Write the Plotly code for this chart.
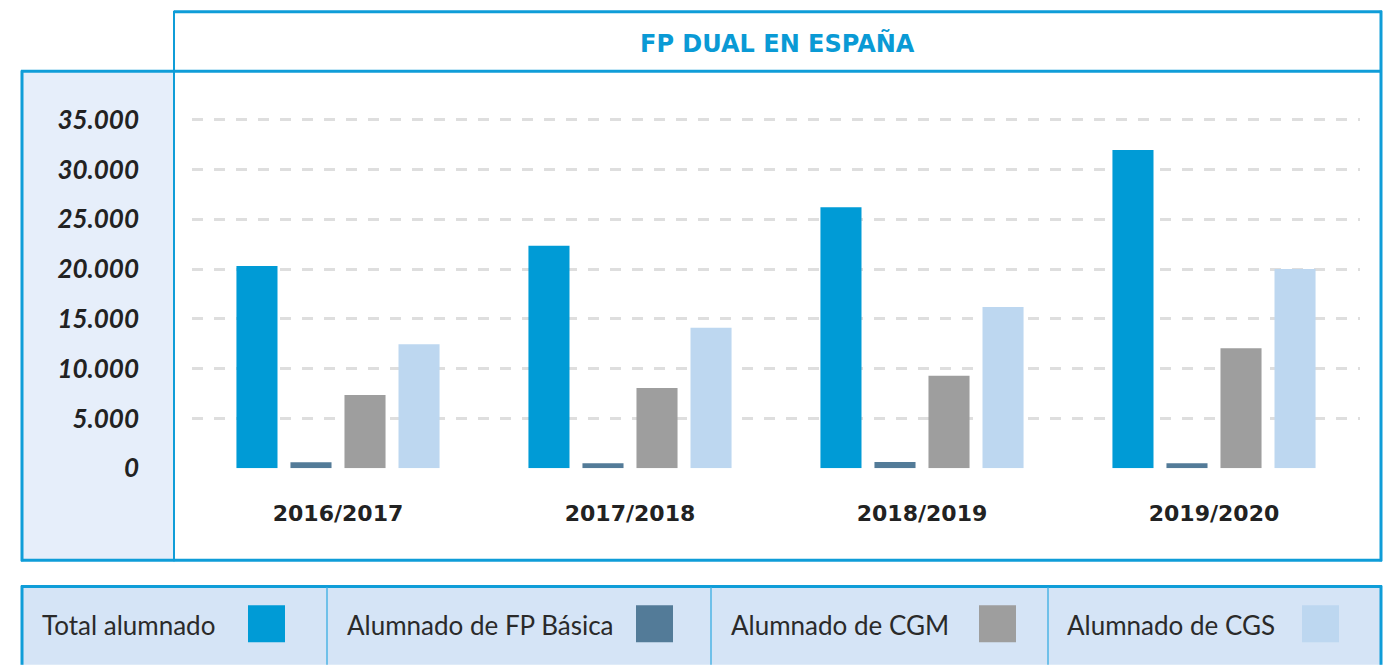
import plotly.graph_objects as go

# --- data -------------------------------------------------------------
cursos = ["2016/2017", "2017/2018", "2018/2019", "2019/2020"]
total_alumnado = [20300, 22350, 26200, 31950]
fp_basica = [600, 500, 620, 500]
cgm = [7350, 8050, 9300, 12050]
cgs = [12450, 14100, 16200, 20000]

series_names = ["Total alumnado", "Alumnado de FP Básica", "Alumnado de CGM", "Alumnado de CGS"]
series_values = [total_alumnado, fp_basica, cgm, cgs]
series_colors = ["#009bd6", "#537b98", "#9e9e9e", "#bdd7f0"]

y_ticks = [0, 5000, 10000, 15000, 20000, 25000, 30000, 35000]
titulo = "FP DUAL EN ESPAÑA"

# --- canvas geometry (pixels) -----------------------------------------
W, H = 1397, 671
BLUE = "#0f9dd8"


def px(x):
    return x / W


def py(y):
    return 1 - y / H


fig = go.Figure()
for name, vals, col in zip(series_names, series_values, series_colors):
    fig.add_trace(go.Bar(
        x=cursos, y=vals, name=name, marker=dict(color=col, line=dict(width=0)),
        showlegend=False,
    ))

shapes = []
# left panel (y axis labels background)
shapes.append(dict(type="rect", xref="paper", yref="paper",
                   x0=px(22), x1=px(174), y0=py(573), y1=py(73),
                   fillcolor="#e6eefa", line=dict(width=0), layer="below"))


def hline(y, x0, x1, w=3, color=BLUE):
    shapes.append(dict(type="line", xref="paper", yref="paper",
                       x0=px(x0), x1=px(x1), y0=py(y), y1=py(y),
                       line=dict(color=color, width=w)))


def vline(x, y0, y1, w=3, color=BLUE):
    shapes.append(dict(type="line", xref="paper", yref="paper",
                       x0=px(x), x1=px(x), y0=py(y0), y1=py(y1),
                       line=dict(color=color, width=w)))


# chart frame
hline(12, 174, 1382)
hline(73, 21, 1382)
hline(573, 21, 1382)
vline(174, 11, 574, w=2)
vline(1381, 11, 574)
vline(22, 72, 574)

# legend strip
shapes.append(dict(type="rect", xref="paper", yref="paper",
                   x0=px(22), x1=px(1381), y0=py(680), y1=py(600),
                   fillcolor="#d5e4f6", line=dict(width=0), layer="below"))
hline(600, 21, 1382)
vline(22, 599, 680)
vline(1381, 599, 680)
for xd in [327, 711, 1048]:
    vline(xd, 601, 680, w=1.5, color="#4db5e4")

annotations = [dict(text=f"<b>{titulo}</b>", xref="paper", yref="paper",
                    x=px(777), y=py(44), showarrow=False,
                    font=dict(family="DejaVu Sans", size=24, color="#0a9ad5"),
                    xanchor="center", yanchor="middle")]

legend_text_x = [40, 345, 729, 1065]
legend_swatch_x = [248, 636, 979, 1302]
for name, col, tx, sx in zip(series_names, series_colors, legend_text_x, legend_swatch_x):
    annotations.append(dict(text=name, xref="paper", yref="paper",
                            x=px(tx), y=py(639), showarrow=False,
                            font=dict(family="Lato", size=26, color="#2a2a2a"),
                            xanchor="left", yanchor="middle"))
    shapes.append(dict(type="rect", xref="paper", yref="paper",
                       x0=px(sx), x1=px(sx + 37), y0=py(657), y1=py(619),
                       fillcolor=col, line=dict(width=0)))

fig.update_layout(
    width=W, height=H,
    margin=dict(l=0, r=0, t=0, b=0),
    paper_bgcolor="white", plot_bgcolor="rgba(0,0,0,0)",
    separators=",.",
    barmode="group", bargap=0.26, bargroupgap=0.24,
    shapes=shapes, annotations=annotations,
    xaxis=dict(domain=[px(192), px(1360)], showgrid=False, zeroline=False,
               showline=False, ticks="",
               tickfont=dict(family="DejaVu Sans", size=22, color="#222222"),
               tickprefix="<b>", ticksuffix="</b>",
               ticklabelstandoff=30),
    yaxis=dict(domain=[py(479), py(102)], range=[0, 37000],
               tickvals=y_ticks, tickformat=",.0f",
               showgrid=True, gridcolor="#dedede", gridwidth=3,
               griddash="11px,11px", zeroline=False, showline=False, ticks="",
               tickfont=dict(family="Lato", size=26, color="#222222",
                             weight="bold", style="italic"),
               ticklabelstandoff=52),
)

fig.write_html("out.html")
